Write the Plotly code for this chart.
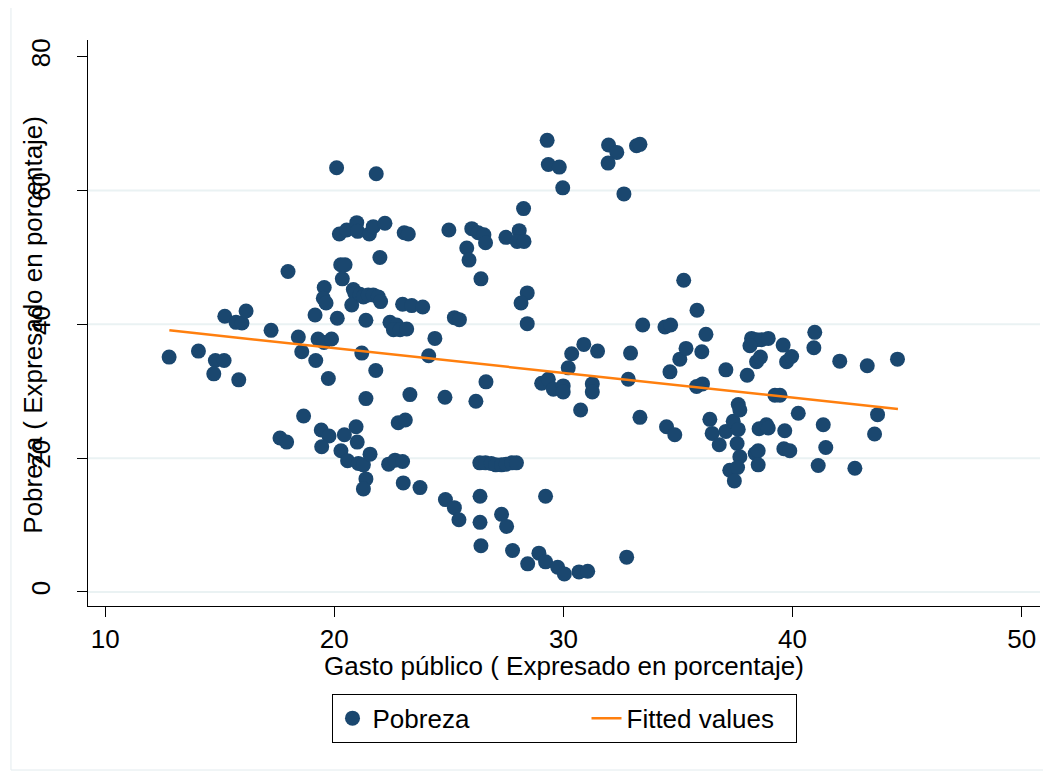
import plotly.graph_objects as go

# Gasto público (%) and Pobreza (%)
gasto = [12.79, 14.07, 14.81, 15.19, 14.74, 15.83, 15.22, 15.71, 15.97, 16.15, 17.24, 17.98, 18.43, 18.58, 18.66, 17.63, 17.92,
         19.16, 19.29, 19.55, 19.88, 19.19, 19.74, 19.56, 19.52, 19.64, 19.43, 19.77, 19.45,
         20.10, 20.22, 20.54, 20.98, 21.02, 20.28, 20.47, 20.35, 20.83, 20.90, 20.76, 21.12, 20.13, 20.44, 20.95, 21.00, 20.29, 20.58, 21.05, 21.27, 21.56, 21.38, 21.27,
         21.83, 21.53, 21.70, 21.27, 21.48, 21.70, 21.92, 22.02, 21.99, 21.38, 21.20, 21.81, 21.38,
         22.21, 23.05, 23.23, 22.98, 23.38, 23.86, 22.43, 22.72, 22.58, 22.87, 23.16, 24.39, 24.12, 23.30, 24.83, 22.37, 22.65, 22.98, 22.79, 23.10, 23.01, 23.74, 24.85, 25.24, 25.44,
         25.00, 26.00, 26.28, 26.53, 26.60, 25.78, 25.88, 27.49, 28.07, 27.98, 28.28, 28.26, 26.40, 28.42, 28.15, 28.42, 25.24, 25.46, 26.62, 26.18,
         26.35, 26.60, 26.85, 27.05, 27.30, 27.50, 27.75, 27.95, 26.36, 26.36, 27.30, 27.52, 26.40, 27.78, 28.44,
         28.93, 29.22, 29.75, 30.04, 30.68, 31.06, 29.22, 32.76, 29.29, 29.34, 29.82, 29.97, 31.97, 32.33, 31.95, 33.19, 33.34, 32.64,
         30.36, 30.89, 31.49, 32.93, 30.21, 29.05, 29.34, 29.56, 29.99, 29.99, 31.26, 31.26, 30.75, 32.83, 33.34, 33.46,
         34.43, 34.68, 34.65, 35.08, 35.25, 34.50, 34.86, 35.83, 36.22, 35.35, 36.04, 35.81, 36.07,
         37.09, 38.02, 38.21, 38.43, 38.65, 38.94, 38.14, 38.43, 38.60, 39.59, 39.74, 39.96, 39.23, 39.45,
         36.39, 36.49, 36.80, 37.09, 37.41, 37.63, 37.63, 37.70, 37.58, 37.70, 37.26, 37.60, 37.46, 38.37, 38.50, 38.50, 38.54, 38.86, 38.94, 39.66, 39.62, 39.88,
         40.25, 40.97, 40.93, 42.06, 43.26, 44.58, 41.34, 41.45, 41.12, 42.72, 43.71, 43.58]

pobreza = [35.1, 36.0, 34.6, 34.6, 32.6, 31.7, 41.2, 40.3, 40.2, 42.0, 39.1, 47.9, 38.1, 35.9, 26.3, 23.0, 22.4,
           41.4, 37.8, 37.3, 37.8, 34.6, 31.9, 45.5, 43.9, 43.2, 24.2, 23.3, 21.7,
           63.4, 53.5, 54.1, 55.2, 53.9, 48.9, 48.9, 46.8, 45.2, 44.6, 42.9, 44.5, 40.9, 23.5, 24.7, 22.4, 21.1, 19.6, 19.2, 19.0, 20.6, 16.9, 15.4,
           62.5, 53.5, 54.6, 44.1, 44.4, 44.4, 44.1, 43.4, 50.0, 40.6, 35.7, 33.1, 28.9,
           55.1, 53.7, 53.5, 43.0, 42.8, 42.6, 40.3, 39.9, 39.2, 39.2, 39.3, 37.9, 35.3, 29.5, 29.1, 19.1, 19.7, 19.5, 25.3, 25.7, 16.3, 15.6, 13.8, 12.6, 10.8,
           54.1, 54.3, 53.7, 53.4, 52.2, 51.4, 49.6, 53.0, 54.0, 52.4, 52.4, 57.3, 46.8, 44.7, 43.2, 40.1, 41.0, 40.7, 31.4, 28.5,
           19.3, 19.3, 19.2, 19.0, 19.0, 19.1, 19.3, 19.3, 14.3, 10.4, 11.6, 9.8, 6.9, 6.2, 4.2,
           5.8, 4.5, 3.7, 2.7, 3.0, 3.1, 14.3, 5.2, 67.5, 63.9, 63.5, 60.4, 66.8, 65.7, 64.1, 66.7, 66.9, 59.5,
           35.6, 37.0, 36.0, 35.7, 33.5, 31.2, 31.8, 30.3, 30.8, 29.9, 31.1, 29.9, 27.2, 31.8, 26.1, 39.9,
           39.6, 39.9, 32.9, 34.8, 46.6, 24.7, 23.5, 42.1, 38.5, 36.4, 35.9, 30.7, 31.1,
           33.2, 32.4, 37.9, 37.7, 37.7, 37.9, 36.8, 34.4, 35.1, 36.9, 34.4, 35.2, 29.4, 29.4,
           25.8, 23.7, 22.0, 24.0, 25.5, 24.3, 28.0, 27.2, 22.2, 20.2, 18.2, 18.6, 16.6, 20.7, 21.1, 19.0, 24.4, 25.0, 24.5, 24.1, 21.4, 21.1,
           26.7, 38.8, 36.5, 34.5, 33.8, 34.8, 25.0, 21.6, 18.9, 18.5, 26.5, 23.6]

# Fitted values (endpoints of the linear fit line)
fit_x = [12.8, 44.6]
fit_y = [39.1, 27.35]

x_ticks = [10, 20, 30, 40, 50]
y_ticks = [0, 20, 40, 60, 80]
y_grid = [0, 20, 40, 60]

FONT = "Liberation Sans, Arial, sans-serif"
NAVY = "#1a476f"
ORANGE = "#ff7f0e"

fig = go.Figure()
fig.add_trace(go.Scatter(x=gasto, y=pobreza, mode="markers", name="Pobreza",
                         legendwidth=209,
                         marker=dict(color=NAVY, size=15, line=dict(width=0))))
fig.add_trace(go.Scatter(x=fit_x, y=fit_y, mode="lines", name="Fitted values",
                         legendwidth=164,
                         line=dict(color=ORANGE, width=2.5)))

shapes = []
for g in y_grid:
    shapes.append(dict(type="line", xref="paper", yref="y", x0=0, x1=1, y0=g, y1=g,
                       line=dict(color="#eaf2f3", width=2), layer="below"))
# outer graph-region frame
shapes.append(dict(type="rect", xref="paper", yref="paper", x0=-0.0809, x1=1.0063, y0=-0.2898, y1=1.08,
                   line=dict(color="#e3ebee", width=1), layer="below"))

# the page body adds an 8px offset, so the figure is 8px smaller and margins shifted
fig.update_layout(
    width=1043, height=766,
    margin=dict(l=80, r=11, t=32, b=168, autoexpand=False),
    paper_bgcolor="white", plot_bgcolor="white",
    font=dict(family=FONT, size=26, color="black"),
    shapes=shapes,
    showlegend=True,
    legend=dict(orientation="h", x=0.5, xanchor="center", y=-0.155, yanchor="top",
                bordercolor="black", borderwidth=1, font=dict(size=26),
                itemwidth=30),
    xaxis=dict(range=[9.25, 50.8], tickvals=x_ticks, showgrid=False, zeroline=False,
               showline=True, linecolor="black", linewidth=1, automargin=False,
               ticks="outside", ticklen=10, tickcolor="black",
               tickfont=dict(size=26)),
    yaxis=dict(range=[-2.1, 82.5], tickvals=y_ticks, showgrid=False, zeroline=False,
               showline=True, linecolor="black", linewidth=1, automargin=False,
               ticks="outside", ticklen=10, tickcolor="black",
               tickangle=-90, tickfont=dict(size=26), ticklabelstandoff=17),
    annotations=[
        dict(text="Pobreza ( Expresado en porcentaje)", xref="paper", yref="paper",
             x=(33 - 88) / 952, y=0.497, xanchor="center", yanchor="middle",
             textangle=-90, showarrow=False, font=dict(size=26)),
        dict(text="Gasto público ( Expresado en porcentaje)", xref="paper", yref="paper",
             x=0.5, y=(606 - 666) / 566, xanchor="center", yanchor="middle",
             showarrow=False, font=dict(size=26)),
    ],
)

fig.write_html("out.html")
